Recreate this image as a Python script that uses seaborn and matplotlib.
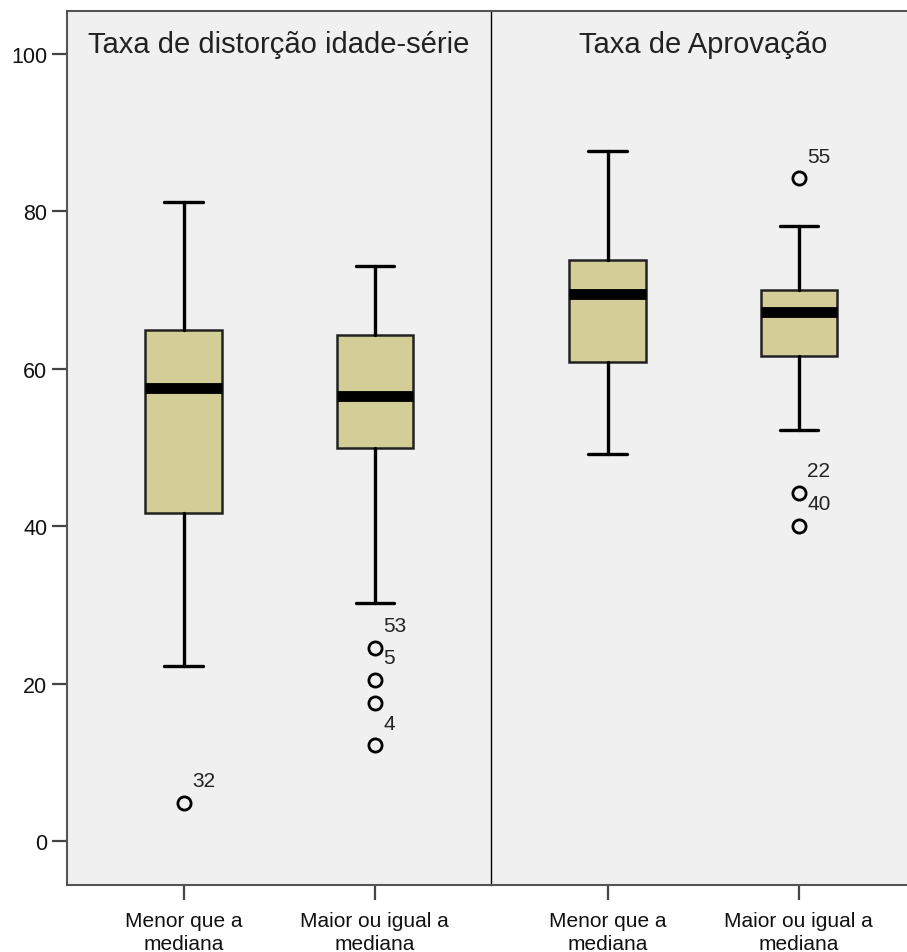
import matplotlib
matplotlib.use("Agg")
import matplotlib.pyplot as plt
import seaborn as sns

# summary stats (SPSS boxplot)
panels = ["Taxa de distorção idade-série", "Taxa de Aprovação"]
groups = ["Menor que a\nmediana", "Maior ou igual a\nmediana"]

whislo = [[22.3, 30.3], [49.2, 52.2]]
q1 = [[41.7, 49.9], [60.9, 61.7]]
med = [[57.6, 56.5], [69.5, 67.2]]
q3 = [[65.0, 64.3], [73.9, 70.0]]
whishi = [[81.2, 73.1], [87.7, 78.1]]

# outliers and their case labels
fliers = [[[4.9], [24.6, 20.5, 17.6, 12.2]], [[], [84.2, 44.3, 40.1]]]
flier_ids = [[["32"], ["53", "5", "", "4"]], [[], ["55", "22", "40"]]]

sns.set_style("white")
plt.rcParams["font.family"] = ["Liberation Sans", "DejaVu Sans"]

fig = plt.figure(figsize=(9.07, 9.53), dpi=100)
left, bottom, top = 0.0735, 0.0703, 0.9877
pw = 424 / 907
axes = [fig.add_axes([left + i * pw, bottom, pw, top - bottom]) for i in range(2)]

box_col = "#D3CE97"
for i, ax in enumerate(axes):
    stats = []
    for j in range(2):
        stats.append(dict(whislo=whislo[i][j], q1=q1[i][j], med=med[i][j],
                          q3=q3[i][j], whishi=whishi[i][j], fliers=fliers[i][j]))
    ax.bxp(stats, positions=[1, 2], widths=0.4, capwidths=0.2, patch_artist=True,
           boxprops=dict(facecolor=box_col, edgecolor="#222222", linewidth=1.8),
           medianprops=dict(color="black", linewidth=7.8, solid_capstyle="butt"),
           whiskerprops=dict(color="black", linewidth=2.4),
           capprops=dict(color="black", linewidth=2.4),
           flierprops=dict(marker="o", markersize=9.5, markerfacecolor="none",
                           markeredgecolor="black", markeredgewidth=2))
    for j in range(2):
        for v, lab in zip(fliers[i][j], flier_ids[i][j]):
            if lab:
                ax.annotate(lab, (j + 1, v), xytext=(6, 16), textcoords="offset points",
                            ha="left", va="center", fontsize=15, color="#222222")
    ax.set_facecolor("#F0F0F0")
    ax.set_xlim(0.389, 2.606)
    ax.set_ylim(-5.55, 105.5)
    ax.text(1.5, 100.3, panels[i], ha="center", va="baseline", fontsize=21, color="#222222")
    ax.set_xticks([1, 2])
    ax.set_xticklabels(groups, fontsize=15, linespacing=1.25)
    ax.tick_params(axis="x", bottom=True, length=11, width=1.6, color="#444444", pad=8,
                   labelcolor="#111111")
    for s in ["top", "bottom"]:
        ax.spines[s].set_color("#555555")
        ax.spines[s].set_linewidth(1.5)

ax1, ax2 = axes
ax1.set_yticks([0, 20, 40, 60, 80, 100])
ax1.tick_params(axis="y", length=11, width=1.6, color="#444444", pad=3, labelsize=15.5,
                labelcolor="#111111", left=True)
ax1.spines["left"].set_color("#555555")
ax1.spines["left"].set_linewidth(1.5)
ax1.spines["right"].set_visible(False)
# panel divider
ax2.spines["left"].set_color("black")
ax2.spines["left"].set_linewidth(1.0)
ax2.spines["right"].set_color("#555555")
ax2.set_yticks([])

fig.savefig("out.png", dpi=100, facecolor="white")
